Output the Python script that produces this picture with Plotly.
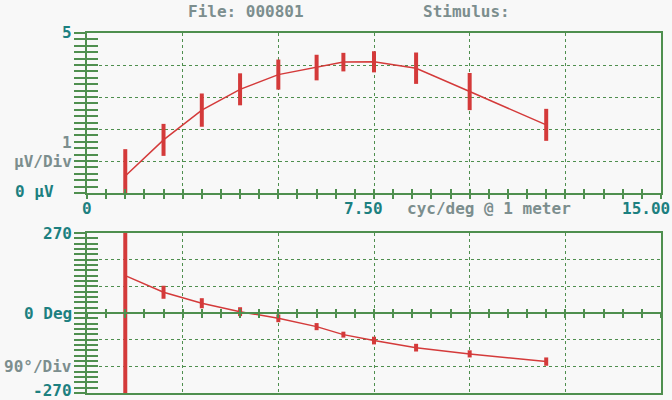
import plotly.graph_objects as go

# ---- data ----
freq = [1.0, 2.0, 3.0, 4.0, 5.0, 6.0, 6.7, 7.5, 8.6, 10.0, 12.0]
amp = [0.53, 1.66, 2.59, 3.24, 3.70, 3.92, 4.09, 4.10, 3.90, 3.17, 2.13]
amp_err = [0.84, 0.50, 0.52, 0.50, 0.47, 0.40, 0.29, 0.33, 0.49, 0.58, 0.50]
phase = [126, 70, 33, 4.5, -18, -46, -73, -93, -117, -138, -164]
phase_err = [450, 22, 17, 15, 13, 12, 10, 13, 13, 12, 14]

x_grid = [0, 2.5, 5, 7.5, 10, 12.5, 15]
x_minor = [i * 0.5 for i in range(31)]
amp_grid = [0, 1, 2, 3, 4, 5]
amp_minor = [i * 0.2 for i in range(26)]
ph_grid = [-270, -180, -90, 0, 90, 180, 270]
ph_minor = [-270 + i * 18 for i in range(31)]

x_tick_text = ["0", "7.50", "15.00"]

GREEN = "#4f8f4f"
RED = "#d43a3a"
TEAL = "#1c8080"
GRAY = "#7c8e8e"
BG = "#f8f8f8"
FONT = "DejaVu Sans Mono"

L, R, T, B = 87, 11, 33, 7
W, H = 672, 400
PW, PH = W - L - R, H - T - B


def px(x):
    return (x - L) / PW


def py(y):
    return (H - B - y) / PH


top_dom = [py(193), 1.0]
bot_dom = [0.0, py(233)]
mid_bot = py(313)

fig = go.Figure()
fig.add_trace(go.Scatter(
    x=freq, y=amp, mode="lines", xaxis="x", yaxis="y",
    line=dict(color=RED, width=1.5),
    error_y=dict(type="data", array=amp_err, visible=True, thickness=4, width=0, color=RED),
    hoverinfo="skip"))
fig.add_trace(go.Scatter(
    x=freq, y=phase, mode="lines", xaxis="x2", yaxis="y2",
    line=dict(color=RED, width=1.5),
    error_y=dict(type="data", array=phase_err, visible=True, thickness=4, width=0, color=RED),
    hoverinfo="skip"))
# empty traces so that the overlaid tick-only axes get drawn
for xa, ya in [("x3", "y3"), ("x4", "y4"), ("x5", "y4")]:
    fig.add_trace(go.Scatter(x=[], y=[], xaxis=xa, yaxis=ya, mode="lines",
                             hoverinfo="skip", showlegend=False))

axline = dict(showline=True, linecolor=GREEN, linewidth=2, zeroline=False,
              showticklabels=False)
grid = dict(showgrid=True, gridcolor=GREEN, griddash="dot", gridwidth=1)
inside_only = dict(showline=False, showgrid=False, zeroline=False, showticklabels=False)

fig.update_layout(
    width=W, height=H,
    margin=dict(l=L, r=R, t=T, b=B, pad=0),
    paper_bgcolor=BG, plot_bgcolor=BG,
    showlegend=False,
    xaxis=dict(domain=[0, 1], anchor="y", range=[0, 15], mirror=True,
               tickvals=x_grid, ticks="outside", ticklen=4, tickwidth=2, tickcolor=GREEN,
               minor=dict(tickvals=x_minor, ticks="outside", ticklen=4, tickwidth=2,
                          tickcolor=GREEN, showgrid=False),
               **axline, **grid),
    xaxis3=dict(overlaying="x", anchor="y", side="bottom", range=[0, 15],
                tickvals=x_minor, ticks="inside", ticklen=4, tickwidth=2, tickcolor=GREEN,
                **inside_only),
    yaxis=dict(domain=top_dom, anchor="x", range=[0, 5], mirror=True,
               tickvals=amp_grid, ticks="outside", ticklen=11, tickwidth=2, tickcolor=GREEN,
               minor=dict(tickvals=amp_minor, ticks="outside", ticklen=11, tickwidth=2,
                          tickcolor=GREEN, showgrid=False),
               **axline, **grid),
    yaxis3=dict(overlaying="y", anchor="x", side="left", range=[0, 5],
                tickvals=amp_minor, ticks="inside", ticklen=11, tickwidth=2, tickcolor=GREEN,
                **inside_only),
    xaxis2=dict(domain=[0, 1], anchor="y2", range=[0, 15], mirror=True,
                tickvals=x_grid, ticks="", **axline, **grid),
    xaxis4=dict(overlaying="x2", anchor="free", position=mid_bot, range=[0, 15],
                tickvals=x_minor, ticks="outside", ticklen=4, tickwidth=2, tickcolor=GREEN,
                showgrid=False, **axline),
    xaxis5=dict(overlaying="x2", anchor="free", position=mid_bot, range=[0, 15],
                tickvals=x_minor, ticks="inside", ticklen=4, tickwidth=2, tickcolor=GREEN,
                **inside_only),
    yaxis2=dict(domain=bot_dom, anchor="x2", range=[-270, 270], mirror=True,
                tickvals=ph_grid, ticks="outside", ticklen=11, tickwidth=2, tickcolor=GREEN,
                minor=dict(tickvals=ph_minor, ticks="outside", ticklen=11, tickwidth=2,
                           tickcolor=GREEN, showgrid=False),
                showline=True, linecolor=GREEN, linewidth=2, showticklabels=False,
                zeroline=True, zerolinecolor=GREEN, zerolinewidth=2, **grid),
    yaxis4=dict(overlaying="y2", anchor="x2", side="left", range=[-270, 270],
                tickvals=ph_minor, ticks="inside", ticklen=11, tickwidth=2, tickcolor=GREEN,
                **inside_only),
)


def label(text, x, y, color, anchor="center"):
    fig.add_annotation(text=text, x=px(x), y=py(y), xref="paper", yref="paper",
                       xanchor=anchor, yanchor="middle", showarrow=False,
                       font=dict(family=FONT, size=16, color=color, weight="bold"))


# title line
label("File: 000801", 246, 11, GRAY)
label("Stimulus:", 466, 11, GRAY)

# amplitude axis labels
label("5", 74, 32, TEAL, "right")
label("1", 74, 142, GRAY, "right")
label("μV/Div", 74, 161, GRAY, "right")
label("0 μV", 13, 191, TEAL, "left")

# x axis labels
x_label_px = [87, 363, 646]
for t, xp in zip(x_tick_text, x_label_px):
    label(t, xp, 208, TEAL)
label("cyc/deg @ 1 meter", 489, 208, GRAY)

# phase axis labels
label("270", 74, 233, TEAL, "right")
label("0 Deg", 74, 313, TEAL, "right")
label("90°/Div", 74, 366, GRAY, "right")
label("-270", 74, 390, TEAL, "right")

fig.write_html(
    "out.html",
    config={"displayModeBar": False},
    post_script="document.body.style.margin='0';document.body.style.overflow='hidden';",
)
